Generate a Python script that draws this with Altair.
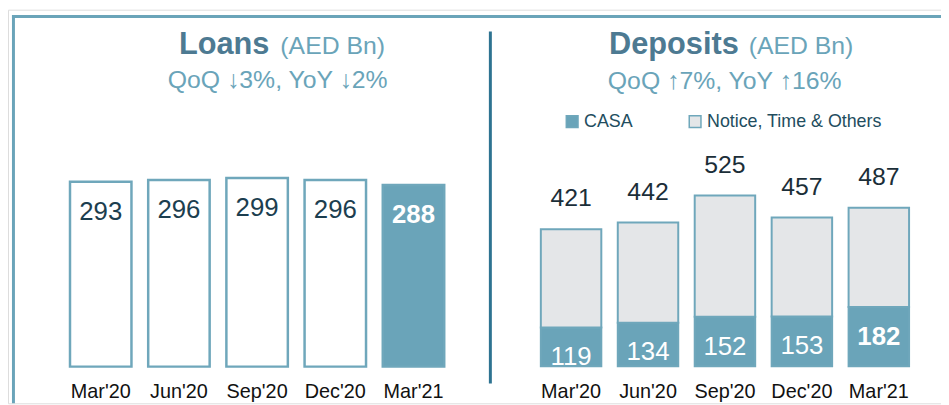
import altair as alt
import pandas as pd

# ---------------- data ----------------
periods = ["Mar'20", "Jun'20", "Sep'20", "Dec'20", "Mar'21"]
loans = [293, 296, 299, 296, 288]
casa = [119, 134, 152, 153, 182]
deposits_total = [421, 442, 525, 457, 487]
segments = ["CASA", "Notice, Time & Others"]

loans_title = "Loans"
deposits_title = "Deposits"
unit_text = "(AED Bn)"
loans_sub = "QoQ ↓3%, YoY ↓2%"
deposits_sub = "QoQ ↑7%, YoY ↑16%"

# ---------------- style ----------------
FONT = "Liberation Sans, Arial, sans-serif"
TEAL = "#6aa4b9"
TEAL_LINE = "#6fa7bb"
DARK_TEAL = "#2e7391"
TITLE_DARK = "#4d7a92"
GREY = "#e4e6e8"
W, H = 941, 397

latest = periods[-1]
loans_df = pd.DataFrame({"period": periods, "value": loans})
loans_df["latest"] = [1 if p == latest else 0 for p in periods]

dep_rows = []
for p, c, t in zip(periods, casa, deposits_total):
    dep_rows.append({"period": p, "segment": segments[0], "start": 0, "end": c})
    dep_rows.append({"period": p, "segment": segments[1], "start": c, "end": t})
dep_bars_df = pd.DataFrame(dep_rows)
dep_df = pd.DataFrame({"period": periods, "casa": casa, "total": deposits_total})
dep_df["latest"] = [1 if p == latest else 0 for p in periods]

one = pd.DataFrame({"a": [0]})


def x_axis():
    return alt.Axis(orient="bottom", title=None, domain=False, ticks=False, tickSize=0,
                    labelAngle=0, labelFont=FONT, labelFontSize=20, labelColor="#111111",
                    labelBaseline="alphabetic", labelPadding=31, offset=-37, grid=False)


# ---------------- loans panel ----------------
xl = alt.X("period:N", sort=periods,
           scale=alt.Scale(range=[54.1, 448.4], paddingInner=0.214, paddingOuter=0.107),
           axis=x_axis())
yl = alt.Y("value:Q", scale=alt.Scale(domain=[0, 500], range=[360, 42]), axis=None)

loan_bars = alt.Chart(loans_df).mark_bar(stroke=TEAL_LINE, strokeWidth=2.5).encode(
    x=xl, y=yl,
    fill=alt.condition(alt.datum.latest == 1, alt.value(TEAL), alt.value("white")),
)
loan_txt = alt.Chart(loans_df).transform_filter(alt.datum.latest == 0).mark_text(
    font=FONT, fontSize=26, color="#1c3e4f", baseline="alphabetic", dy=38
).encode(x=xl, y=yl, text="value:Q")
loan_txt_b = alt.Chart(loans_df).transform_filter(alt.datum.latest == 1).mark_text(
    font=FONT, fontSize=26, fontWeight="bold", color="white", baseline="alphabetic", dy=38
).encode(x=xl, y=yl, text="value:Q")
loans_layer = alt.layer(loan_bars, loan_txt, loan_txt_b)

# ---------------- deposits panel ----------------
xd = alt.X("period:N", sort=periods,
           scale=alt.Scale(range=[529.1, 917.1], paddingInner=0.214, paddingOuter=0.107),
           axis=x_axis())
yscale_d = alt.Scale(domain=[0, 1000], range=[359.7, 31.4])

dep_bars = alt.Chart(dep_bars_df).mark_bar(stroke=TEAL_LINE, strokeWidth=2).encode(
    x=xd,
    y=alt.Y("start:Q", scale=yscale_d, axis=None),
    y2="end:Q",
    fill=alt.Fill("segment:N", scale=alt.Scale(domain=segments, range=[TEAL, GREY]),
                  legend=alt.Legend(orient="none", legendX=560, legendY=104, direction="horizontal",
                                    title=None, symbolType="square", symbolSize=140,
                                    symbolStrokeColor=TEAL_LINE, symbolStrokeWidth=1.5,
                                    labelFont=FONT, labelFontSize=18, labelColor="#224d5e",
                                    labelLimit=0, labelOffset=3, columnPadding=53, padding=0)),
)
dep_tot = alt.Chart(dep_df).mark_text(
    font=FONT, fontSize=25, color="#1b2e38", baseline="alphabetic", dy=-23
).encode(x=xd, y=alt.Y("total:Q", scale=yscale_d, axis=None), text="total:Q")
casa_txt = alt.Chart(dep_df).transform_filter(alt.datum.latest == 0).mark_text(
    font=FONT, fontSize=26, color="white", baseline="alphabetic", dy=38
).encode(x=xd, y=alt.Y("casa:Q", scale=yscale_d, axis=None), text="casa:Q")
casa_txt_b = alt.Chart(dep_df).transform_filter(alt.datum.latest == 1).mark_text(
    font=FONT, fontSize=26, fontWeight="bold", color="white", baseline="alphabetic", dy=38
).encode(x=xd, y=alt.Y("casa:Q", scale=yscale_d, axis=None), text="casa:Q")
deposits_layer = alt.layer(dep_bars, dep_tot, casa_txt, casa_txt_b)

# ---------------- frame & titles ----------------
top_border = alt.Chart(one).mark_rule(stroke=TEAL, strokeWidth=3).encode(
    x=alt.value(4), x2=alt.value(W), y=alt.value(6.8))
left_border = alt.Chart(one).mark_rule(stroke=TEAL, strokeWidth=3).encode(
    x=alt.value(5.5), y=alt.value(5.3), y2=alt.value(H))
divider = alt.Chart(one).mark_rule(stroke=DARK_TEAL, strokeWidth=3).encode(
    x=alt.value(486.5), y=alt.value(22), y2=alt.value(377))


def txt(s, x, y, size, color, align, weight="normal"):
    return alt.Chart(one).mark_text(text=s, font=FONT, fontSize=size, color=color, align=align,
                                    baseline="alphabetic", fontWeight=weight).encode(
        x=alt.value(x), y=alt.value(y))


titles = [
    txt(loans_title, 263.7, 45, 31, TITLE_DARK, "right", "bold"),
    txt(unit_text, 274.7, 45, 25, TEAL, "left"),
    txt(loans_sub, 272, 79, 25, TEAL, "center"),
    txt(deposits_title, 737, 45, 31, TITLE_DARK, "right", "bold"),
    txt(unit_text, 747, 45, 25, TEAL, "left"),
    txt(deposits_sub, 722.8, 80, 25, TEAL, "center"),
]

chart = alt.layer(
    loans_layer, deposits_layer, top_border, left_border, divider, *titles
).resolve_scale(x="independent", y="independent").properties(
    width=W, height=H, autosize=alt.AutoSizeParams(type="none"), padding=0
).configure_view(stroke=None).configure(background="white")

chart.save("out.html", embed_options={"renderer": "svg", "actions": False})
